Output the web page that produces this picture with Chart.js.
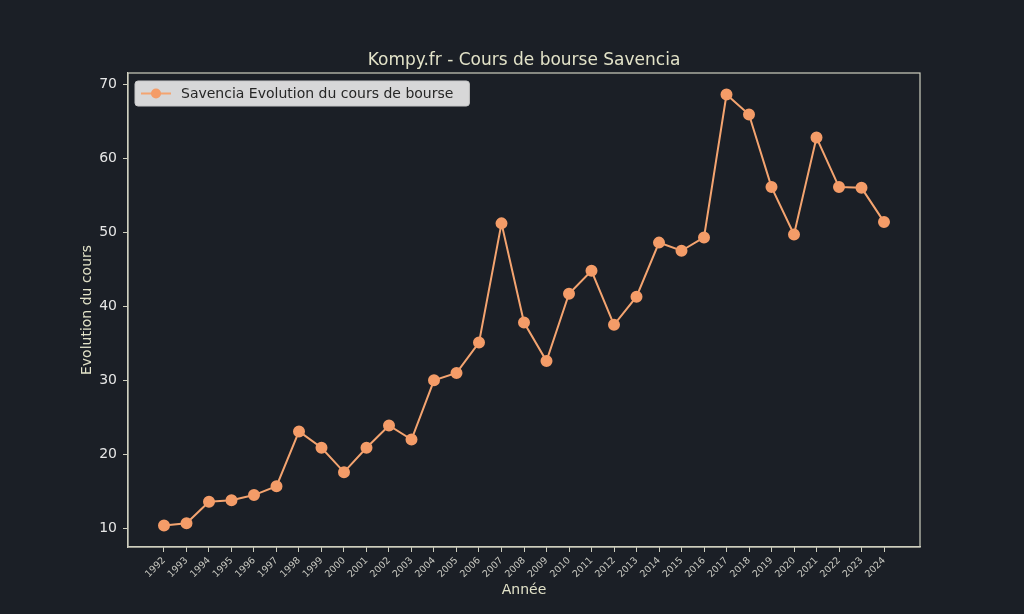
<!DOCTYPE html>
<html>
<head>
<meta charset="utf-8">
<script src="https://cdn.jsdelivr.net/npm/chart.js@4/dist/chart.umd.min.js"></script>
<style>
  html, body { margin: 0; padding: 0; background: #1b1f26; }
  #wrap { width: 1024px; height: 614px; }
</style>
</head>
<body>
<div id="wrap"><canvas id="c" width="1024" height="614"></canvas></div>
<script>
// --- DONNEES ---
const years = [1992, 1993, 1994, 1995, 1996, 1997, 1998, 1999, 2000, 2001, 2002,
  2003, 2004, 2005, 2006, 2007, 2008, 2009, 2010, 2011, 2012, 2013, 2014, 2015,
  2016, 2017, 2018, 2019, 2020, 2021, 2022, 2023, 2024];
const prices = [10.4, 10.7, 13.6, 13.8, 14.5, 15.7, 23.1, 20.9, 17.6, 20.9, 23.9,
  22.0, 30.0, 31.0, 35.1, 51.2, 37.8, 32.6, 41.7, 44.8, 37.5, 41.3, 48.6, 47.5,
  49.3, 68.6, 65.9, 56.1, 49.7, 62.8, 56.1, 56.0, 51.4];
const yTicks = [10, 20, 30, 40, 50, 60, 70];

const seriesLabel = 'Savencia Evolution du cours de bourse';
const lineColor = '#f4a470';
const axisColor = '#cfcfbf';
const font = '"DejaVu Sans", sans-serif';

// marges type matplotlib (5%)
const xPad = (years[years.length - 1] - years[0]) * 0.05;
const yMin = Math.min(...prices), yMax = Math.max(...prices);
const yPad = (yMax - yMin) * 0.05;

// cadre complet autour de la zone de tracé
const framePlugin = {
  id: 'frame',
  afterDraw(chart) {
    const { ctx, chartArea: a } = chart;
    ctx.save();
    ctx.strokeStyle = axisColor;
    ctx.lineWidth = 1.2;
    ctx.strokeRect(a.left, a.top, a.right - a.left, a.bottom - a.top);
    ctx.restore();
  }
};

// légende encadrée (fond clair)
const legendBox = {
  id: 'legendBox',
  afterDraw(chart) {
    const { ctx, chartArea: a } = chart;
    const ds = chart.data.datasets[0];
    ctx.save();
    ctx.font = '14px ' + font;
    const tw = ctx.measureText(ds.label).width;
    const x = a.left + 7, y = a.top + 8, h = 25, w = tw + 62;
    ctx.fillStyle = 'rgba(226,226,226,0.95)';
    ctx.strokeStyle = '#c8c8c8';
    ctx.lineWidth = 1;
    ctx.beginPath();
    ctx.roundRect(x, y, w, h, 3);
    ctx.fill();
    ctx.stroke();
    const cy = y + h / 2;
    ctx.strokeStyle = ds.borderColor;
    ctx.lineWidth = 2;
    ctx.beginPath();
    ctx.moveTo(x + 6, cy);
    ctx.lineTo(x + 36, cy);
    ctx.stroke();
    ctx.fillStyle = ds.pointBackgroundColor;
    ctx.beginPath();
    ctx.arc(x + 21, cy, 5, 0, Math.PI * 2);
    ctx.fill();
    ctx.fillStyle = '#262626';
    ctx.textBaseline = 'middle';
    ctx.fillText(ds.label, x + 46, cy + 1);
    ctx.restore();
  }
};

new Chart(document.getElementById('c'), {
  type: 'line',
  data: {
    datasets: [{
      label: seriesLabel,
      data: years.map((y, i) => ({ x: y, y: prices[i] })),
      borderColor: lineColor,
      backgroundColor: lineColor,
      pointBackgroundColor: '#f49c68',
      pointBorderColor: '#f49c68',
      borderWidth: 2,
      pointRadius: 5,
      tension: 0
    }]
  },
  options: {
    responsive: false,
    animation: false,
    devicePixelRatio: 1,
    layout: { padding: { left: 0, right: 104, top: 0, bottom: 0 } },
    plugins: {
      legend: { display: false },
      tooltip: { enabled: false },
      title: {
        display: true,
        text: 'Kompy.fr - Cours de bourse Savencia',
        color: '#e2e2c8',
        fullSize: false,
        font: { family: font, size: 17, weight: 'normal' },
        padding: { top: 50, bottom: 2.6 }
      }
    },
    scales: {
      x: {
        type: 'linear',
        min: years[0] - xPad,
        max: years[years.length - 1] + xPad,
        afterBuildTicks: s => { s.ticks = years.map(v => ({ value: v })); },
        afterFit: s => { s.height = 67; },
        border: { display: true, color: axisColor, width: 1.2 },
        grid: { drawOnChartArea: false, drawTicks: true, tickLength: 5, color: axisColor },
        ticks: {
          color: '#c8c8c0',
          font: { family: font, size: 9.5 },
          minRotation: 45,
          maxRotation: 45,
          autoSkip: false,
          padding: 3,
          callback: v => String(v)
        },
        title: {
          display: true,
          text: 'Année',
          color: '#e2e2c8',
          font: { family: font, size: 14 },
          padding: { top: 0, bottom: 15.6 }
        }
      },
      y: {
        min: yMin - yPad,
        max: yMax + yPad,
        afterBuildTicks: s => { s.ticks = yTicks.map(v => ({ value: v })); },
        afterFit: s => { s.width = 128; },
        border: { display: true, color: axisColor, width: 1.2 },
        grid: { drawOnChartArea: false, drawTicks: true, tickLength: 5, color: axisColor },
        ticks: {
          color: '#e6e6e6',
          font: { family: font, size: 14 },
          padding: 6
        },
        title: {
          display: true,
          text: 'Evolution du cours',
          color: '#e2e2c8',
          font: { family: font, size: 14 },
          padding: { top: 78.6, bottom: 0 }
        }
      }
    }
  },
  plugins: [framePlugin, legendBox]
});
</script>
</body>
</html>
